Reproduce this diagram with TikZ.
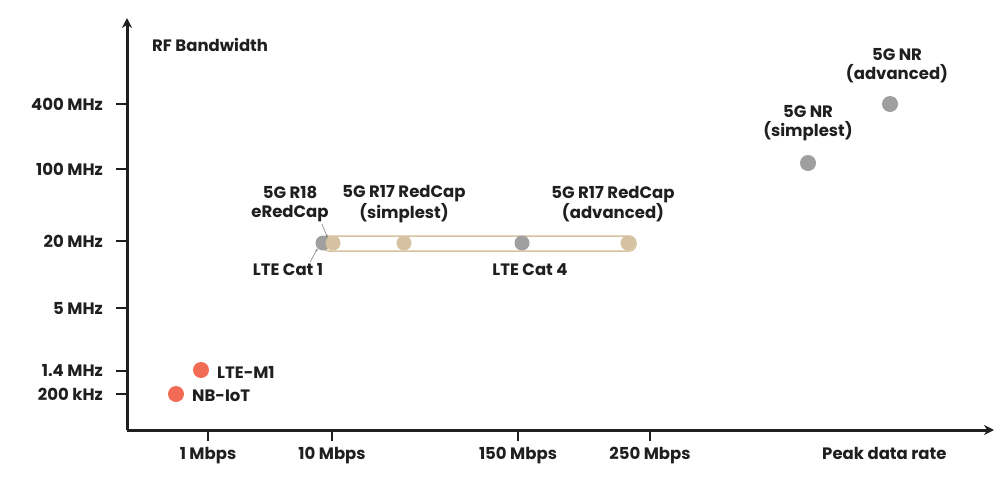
\documentclass[tikz,border=0pt]{standalone}
\usepackage{fontspec}
\setmainfont{Poppins}
\begin{document}
\begin{tikzpicture}[x=1pt,y=-1pt,
  lbl/.style={font=\fontsize{16.5}{19}\selectfont\bfseries, text=black!88, align=center, inner sep=1pt},
  ax/.style={line width=3pt, black!88, -{Stealth[length=10pt,width=10pt]}},
  tk/.style={line width=2.2pt, black!88},
  gdot/.style={circle, fill=gray!75, minimum size=15pt, inner sep=0},
  bdot/.style={circle, fill=beige, minimum size=15pt, inner sep=0},
  odot/.style={circle, fill=coral, minimum size=16pt, inner sep=0}]
\usetikzlibrary{arrows.meta}
\definecolor{beige}{HTML}{D6C2A0}
\definecolor{coral}{HTML}{F26B55}
\useasboundingbox (0,0) rectangle (1006,491);
\coordinate (o) at (127,430);
\coordinate (ytop) at (127,18);
\coordinate (xend) at (994,430);
\draw[ax] (o) -- (ytop);
\draw[ax] (o) -- (xend);
\node[lbl, anchor=west] (yl) at (151,45) {RF Bandwidth};
\node[lbl, anchor=north west] (xl) at (821,446) {Peak data rate};
\foreach \y/\t in {104/400 MHz,169/100 MHz,241/20 MHz,308/5 MHz,371/1.4 MHz,394/200 kHz}{
  \draw[tk] (116,\y) -- (127,\y);
  \node[lbl, anchor=east] at (104,\y) {\t};}
\foreach \x/\t in {208/1 Mbps,332/10 Mbps,518/150 Mbps,650/250 Mbps}{
  \draw[tk] (\x,430) -- (\x,441);
  \node[lbl, anchor=north] at (\x,446) {\t};}
\draw[beige, line width=1.5pt, fill=white, rounded corners=7pt] (322,236) rectangle (636,251);
\node[gdot] (cat1) at (323,243) {};
\node[bdot] (r18) at (333,243) {};
\node[bdot] (r17s) at (404,243) {};
\node[gdot] (cat4) at (522,243) {};
\node[bdot] (r17a) at (628,243) {};
\node[lbl] (tr18) at (290,204) {5G R18\\eRedCap};
\node[lbl] (tr17s) at (404,204) {5G R17 RedCap\\(simplest)};
\node[lbl] (tr17a) at (613,204) {5G R17 RedCap\\(advanced)};
\node[lbl] (tcat1) at (288,270) {LTE Cat 1};
\node[lbl] (tcat4) at (530,270) {LTE Cat 4};
\draw[gray, line width=0.6pt, -{Stealth[length=3pt]}] (tr18.south east) ++(-8,1) -- (r18.north west);
\draw[gray, line width=0.6pt, -{Stealth[length=3pt]}] (tcat1.north east) ++(-14,-1) -- (cat1.south west);
\node[odot] (nb) at (176,394) {};
\node[odot] (m1) at (201,370) {};
\node[lbl, anchor=west] at (191,396) {NB-IoT};
\node[lbl, anchor=west] at (216,372) {LTE-M1};
\node[gdot, minimum size=16pt] (nrs) at (808,163) {};
\node[gdot, minimum size=16pt] (nra) at (890,104) {};
\node[lbl] at (808,123) {5G NR\\(simplest)};
\node[lbl] at (897,66) {5G NR\\(advanced)};
\end{tikzpicture}
\end{document}
